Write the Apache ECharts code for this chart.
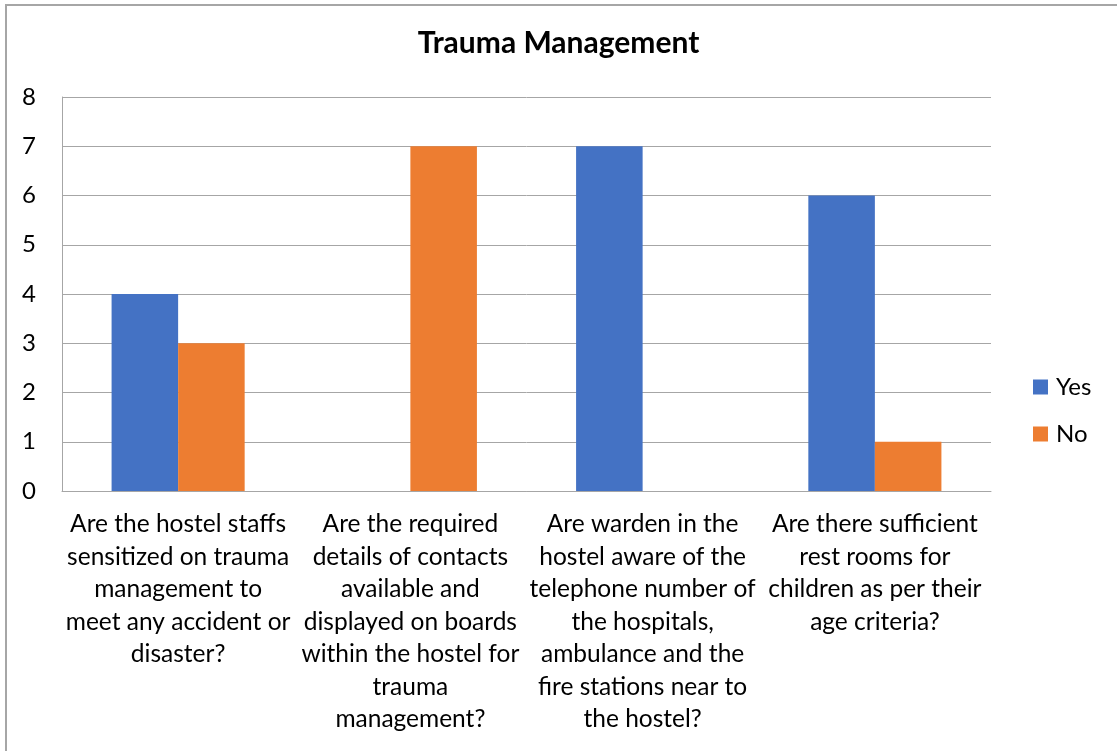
<!DOCTYPE html>
<html>
<head>
<meta charset="utf-8">
<script src="https://cdn.jsdelivr.net/npm/echarts@6/dist/echarts.min.js"></script>
<style>
html,body{margin:0;padding:0;background:#fff;}
#c{width:1117px;height:751px;}
</style>
</head>
<body>
<div id="c"></div>
<script>
var categories = [
  "Are the hostel staffs\nsensitized on trauma\nmanagement to\nmeet any accident or\ndisaster?",
  "Are the required\ndetails of contacts\navailable and\ndisplayed on boards\nwithin the hostel for\ntrauma\nmanagement?",
  "Are warden in the\nhostel aware of the\ntelephone number of\nthe hospitals,\nambulance and the\nfire stations near to\nthe hostel?",
  "Are there sufficient\nrest rooms for\nchildren as per their\nage criteria?"
];
var yesValues = [4, 0, 7, 6];
var noValues = [3, 7, 0, 1];
var yTicks = { min: 0, max: 8, interval: 1 };

var FONT = "Lato";
var chart = echarts.init(document.getElementById('c'), null, {renderer: 'canvas'});
chart.setOption({
  backgroundColor: '#ffffff',
  animation: false,
  title: {
    text: 'Trauma Management',
    left: 'center',
    top: 23,
    textStyle: { fontFamily: FONT, fontWeight: 'bold', fontSize: 30, color: '#000' }
  },
  legend: {
    orient: 'vertical',
    left: 1028,
    top: 370,
    itemWidth: 15,
    itemHeight: 15,
    itemGap: 23,
    icon: 'rect',
    textStyle: { fontFamily: FONT, fontSize: 24, color: '#000', padding: [0, 0, 0, 3] },
    data: ['Yes', 'No']
  },
  grid: { left: 62, right: 126, top: 97, bottom: 260, containLabel: false },
  xAxis: {
    type: 'category',
    data: categories,
    axisLine: { show: true, lineStyle: { color: '#a6a6a6', width: 1 } },
    axisTick: { show: false },
    axisLabel: {
      interval: 0, margin: 17, fontFamily: FONT, fontSize: 24.5, color: '#000',
      lineHeight: 32.5, align: 'center'
    }
  },
  yAxis: {
    type: 'value',
    min: yTicks.min, max: yTicks.max, interval: yTicks.interval,
    axisLine: { show: true, lineStyle: { color: '#a6a6a6', width: 1 } },
    axisTick: { show: false },
    splitLine: { show: true, lineStyle: { color: '#a6a6a6', width: 1 } },
    axisLabel: { margin: 26, fontFamily: FONT, fontSize: 24, color: '#000' }
  },
  series: [
    { name: 'Yes', type: 'bar', data: yesValues, itemStyle: { color: '#4472C4' }, barGap: '0%', barCategoryGap: '42.7%' },
    { name: 'No', type: 'bar', data: noValues, itemStyle: { color: '#ED7D31' }, barGap: '0%', barCategoryGap: '42.7%' }
  ],
  graphic: [{
    type: 'rect', silent: true, z: 100,
    shape: { x: 6, y: 5, width: 1300, height: 1000 },
    style: { fill: 'none', stroke: '#a6a6a6', lineWidth: 2 }
  }]
});
</script>
</body>
</html>
